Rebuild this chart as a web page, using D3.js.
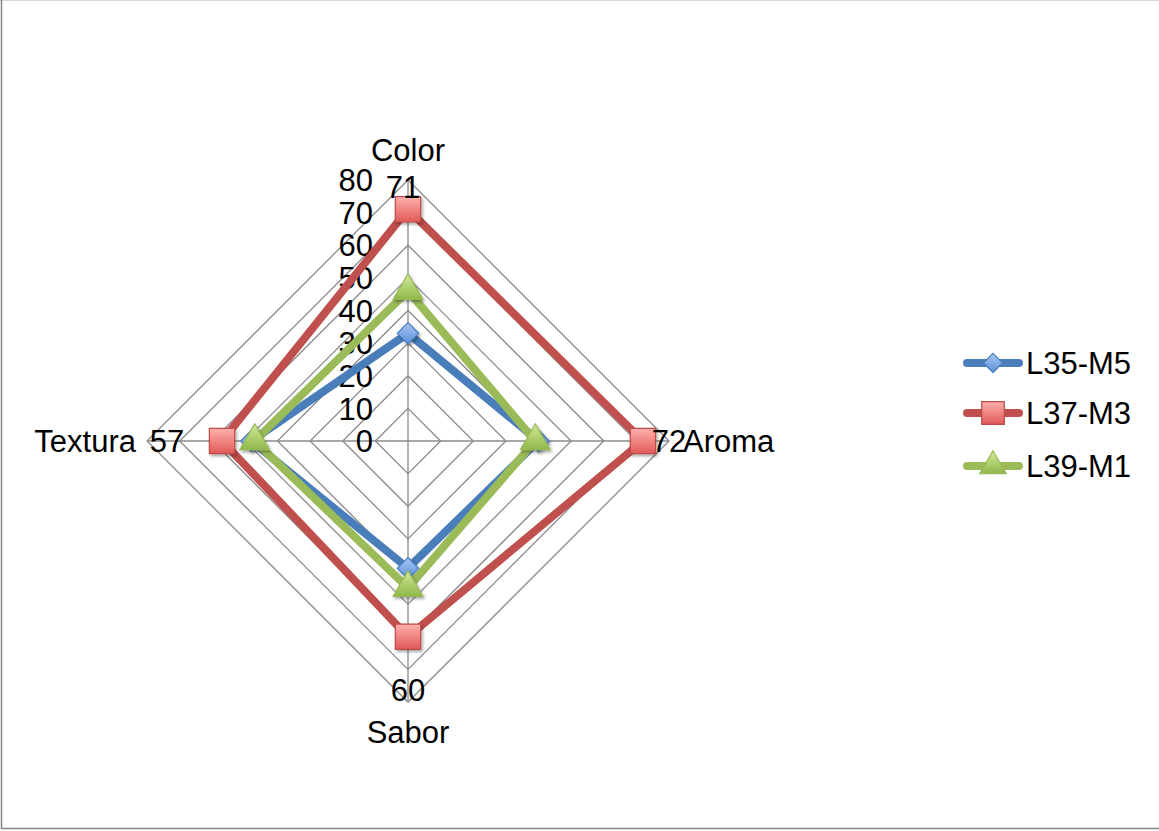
<!DOCTYPE html>
<html>
<head>
<meta charset="utf-8">
<script src="https://cdn.jsdelivr.net/npm/d3@7"></script>
<style>
  html, body { margin: 0; padding: 0; background: #fff; }
  svg { display: block; font-family: "Liberation Sans", Arial, sans-serif; }
</style>
</head>
<body>
<svg id="chart" width="1159" height="831"></svg>
<script>
// Sensory attributes, clockwise from the top
const categories = ["Color", "Aroma", "Sabor", "Textura"];
const seriesNames = ["L35-M5", "L37-M3", "L39-M1"];
const valuesL35 = [33, 40, 39, 48];
const valuesL37 = [71, 72, 60, 57];
const valuesL39 = [46, 39, 45, 47];
const tickValues = [0, 10, 20, 30, 40, 50, 60, 70, 80];
// Only the second series carries value labels
const labelledSeries = "L37-M3";

// square diamond marker (a square turned 45 degrees)
const symbolRhomb = {
  draw(ctx, size) {
    const h = Math.sqrt(size / 2);
    ctx.moveTo(0, -h); ctx.lineTo(h, 0); ctx.lineTo(0, h); ctx.lineTo(-h, 0); ctx.closePath();
  }
};

const series = [
  { name: seriesNames[0], values: valuesL35, color: "#4a7ebb", fillTop: "#a9c8f5", fillBot: "#5b8fd6", stroke: "#4a7ebb", shape: symbolRhomb, size: 230 },
  { name: seriesNames[1], values: valuesL37, color: "#c0504d", fillTop: "#ffb0ad", fillBot: "#e05a57", stroke: "#be4b48", shape: d3.symbolSquare, size: 640 },
  { name: seriesNames[2], values: valuesL39, color: "#9bbb59", fillTop: "#d3ea9a", fillBot: "#8fb84a", stroke: "#98b954", shape: d3.symbolTriangle, size: 380 }
];

const svg = d3.select("#chart");
const W = 1159, H = 831;
const cx = 408, cy = 441;
const FS = 31;

// frame
svg.append("line").attr("x1", 0).attr("x2", W).attr("y1", 0.5).attr("y2", 0.5).attr("stroke", "#d6d6d6").attr("stroke-width", 1);
svg.append("line").attr("x1", 1.5).attr("x2", 1.5).attr("y1", 0).attr("y2", 829).attr("stroke", "#868686").attr("stroke-width", 1.5);
svg.append("line").attr("x1", 1).attr("x2", W).attr("y1", 828.5).attr("y2", 828.5).attr("stroke", "#868686").attr("stroke-width", 1.5);

const defs = svg.append("defs");
const shadow = defs.append("filter").attr("id", "shadow").attr("x", "-50%").attr("y", "-50%").attr("width", "200%").attr("height", "200%");
shadow.append("feDropShadow").attr("dx", 1.5).attr("dy", 2).attr("stdDeviation", 1.6).attr("flood-color", "#000").attr("flood-opacity", 0.35);

series.forEach((s, i) => {
  const g = defs.append("linearGradient").attr("id", "grad" + i).attr("x1", 0).attr("y1", 0).attr("x2", 0).attr("y2", 1);
  g.append("stop").attr("offset", "0%").attr("stop-color", s.fillTop);
  g.append("stop").attr("offset", "100%").attr("stop-color", s.fillBot);
});

const r = d3.scaleLinear().domain([0, 80]).range([0, 261]);
const angle = d3.scalePoint().domain(categories).range([0, 2 * Math.PI * (categories.length - 1) / categories.length]);

const px = (cat, v) => cx + r(v) * Math.sin(angle(cat));
const py = (cat, v) => cy - r(v) * Math.cos(angle(cat));

const grid = svg.append("g").attr("stroke", "#8a8a8a").attr("stroke-width", 1.3).attr("fill", "none");
// rings
tickValues.filter(t => t > 0).forEach(t => {
  grid.append("path").attr("d", d3.line()(categories.map(c => [px(c, t), py(c, t)])) + "Z");
});
// spokes
categories.forEach(c => {
  grid.append("line").attr("x1", cx).attr("y1", cy).attr("x2", px(c, 80)).attr("y2", py(c, 80));
});

// value axis labels along the top spoke
svg.append("g").selectAll("text").data(tickValues).join("text")
  .attr("x", 373)
  .attr("y", d => cy - r(d))
  .attr("dy", "0.36em")
  .attr("text-anchor", "end")
  .attr("font-size", FS)
  .attr("fill", "#000")
  .text(d => d);

// category labels
const catPos = {
  "Color":   { x: 408, y: 150, anchor: "middle" },
  "Aroma":   { x: 683, y: 441, anchor: "start" },
  "Sabor":   { x: 408, y: 732, anchor: "middle" },
  "Textura": { x: 136, y: 441, anchor: "end" }
};
svg.append("g").selectAll("text").data(categories).join("text")
  .attr("x", d => catPos[d].x)
  .attr("y", d => catPos[d].y)
  .attr("dy", "0.36em")
  .attr("text-anchor", d => catPos[d].anchor)
  .attr("font-size", FS)
  .attr("fill", "#000")
  .text(d => d);

// series lines and markers
const line = d3.line().curve(d3.curveLinearClosed);
series.forEach((s, i) => {
  const pts = categories.map((c, k) => [px(c, s.values[k]), py(c, s.values[k])]);
  const g = svg.append("g");
  g.append("path")
    .attr("d", line(pts))
    .attr("fill", "none")
    .attr("stroke", s.color)
    .attr("stroke-width", 8)
    .attr("stroke-linejoin", "round");
  g.selectAll("path.m").data(pts).join("path")
    .attr("class", "m")
    .attr("transform", d => `translate(${d[0]},${d[1]})`)
    .attr("d", d3.symbol().type(s.shape).size(s.size))
    .attr("fill", `url(#grad${i})`)
    .attr("stroke", s.stroke)
    .attr("stroke-width", 1.2)
    .attr("filter", "url(#shadow)");
});

// value labels for the labelled series
const lab = series.find(s => s.name === labelledSeries);
const labelOffset = {
  "Color":   [-5, -23],
  "Aroma":   [26, 0],
  "Sabor":   [0, 53],
  "Textura": [-55, 0]
};
svg.append("g").selectAll("text").data(categories).join("text")
  .attr("x", (c, k) => px(c, lab.values[k]) + labelOffset[c][0])
  .attr("y", (c, k) => py(c, lab.values[k]) + labelOffset[c][1])
  .attr("dy", "0.36em")
  .attr("text-anchor", "middle")
  .attr("font-size", FS)
  .attr("fill", "#000")
  .text((c, k) => lab.values[k]);

// legend
const legend = svg.append("g");
const legY = [363, 413, 466];
series.forEach((s, i) => {
  const y = legY[i];
  legend.append("line")
    .attr("x1", 967).attr("x2", 1019).attr("y1", y).attr("y2", y)
    .attr("stroke", s.color).attr("stroke-width", 8).attr("stroke-linecap", "round");
  legend.append("path")
    .attr("transform", `translate(993,${y})`)
    .attr("d", d3.symbol().type(s.shape).size(s.size * 0.8))
    .attr("fill", `url(#grad${i})`)
    .attr("stroke", s.stroke)
    .attr("stroke-width", 1.2);
  legend.append("text")
    .attr("x", 1026).attr("y", y).attr("dy", "0.36em")
    .attr("font-size", FS).attr("fill", "#000")
    .text(s.name);
});
</script>
</body>
</html>
